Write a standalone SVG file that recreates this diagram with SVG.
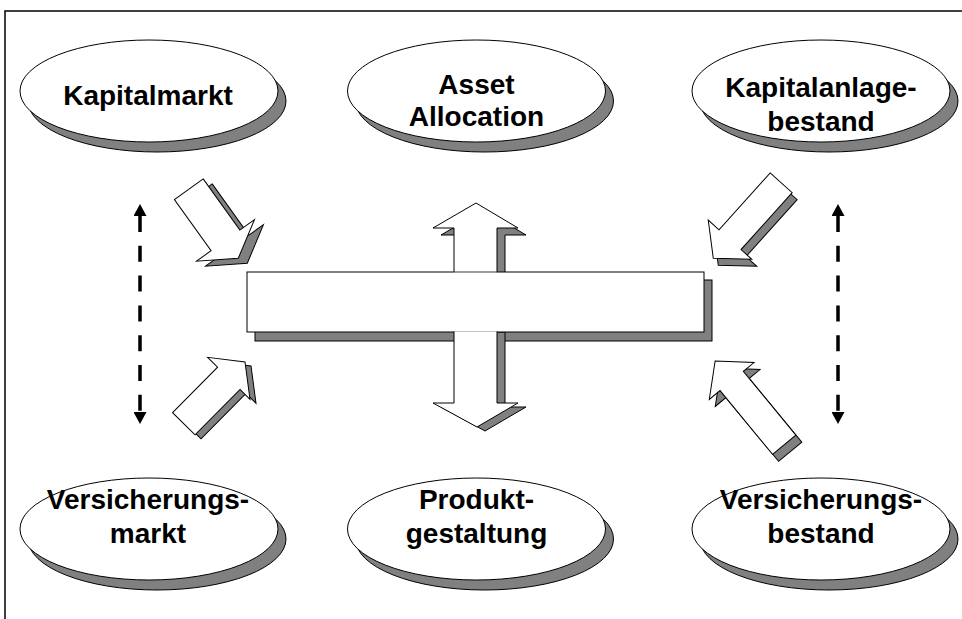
<svg xmlns="http://www.w3.org/2000/svg" width="962" height="619" viewBox="0 0 962 619">
<defs>
<style>
.sh{fill:#808080;stroke:#000;stroke-width:1}
.wh{fill:#fff;stroke:#000;stroke-width:1}
.lbl{font-family:"Liberation Sans",Arial,sans-serif;font-weight:bold;font-size:28px;fill:#000;text-anchor:middle}
.dash{stroke:#000;stroke-width:3.5;stroke-dasharray:16 13.8;fill:none}
</style>
<marker id="ah" viewBox="0 0 12 13" refX="0" refY="6.5" markerWidth="12" markerHeight="13" markerUnits="userSpaceOnUse" orient="auto-start-reverse">
<path d="M0,0 L12,6.5 L0,13 Z" fill="#000"/>
</marker>
</defs>
<rect width="962" height="619" fill="#fff"/>
<path d="M5,619 L5,11 L962,11" fill="none" stroke="#000" stroke-width="1.5"/>

<g id="kapitalmarkt">
<ellipse class="sh" cx="157" cy="101" rx="129" ry="51"/>
<ellipse class="wh" cx="149" cy="91" rx="129" ry="51"/>
<text class="lbl" x="148" y="105">Kapitalmarkt</text>
</g>
<g id="asset-allocation">
<ellipse class="sh" cx="484.5" cy="101" rx="129" ry="51"/>
<ellipse class="wh" cx="476.5" cy="91" rx="129" ry="51"/>
<text class="lbl" x="476.5" y="94">Asset</text>
<text class="lbl" x="476.5" y="126">Allocation</text>
</g>
<g id="kapitalanlagebestand">
<ellipse class="sh" cx="829" cy="101" rx="129" ry="51"/>
<ellipse class="wh" cx="821" cy="91" rx="129" ry="51"/>
<text class="lbl" x="821" y="97">Kapitalanlage-</text>
<text class="lbl" x="821" y="131">bestand</text>
</g>
<g id="versicherungsmarkt">
<ellipse class="sh" cx="157" cy="539" rx="129" ry="51"/>
<ellipse class="wh" cx="149" cy="529" rx="129" ry="51"/>
<text class="lbl" x="148" y="509">Versicherungs-</text>
<text class="lbl" x="148" y="543">markt</text>
</g>
<g id="produktgestaltung">
<ellipse class="sh" cx="484.5" cy="539" rx="129" ry="51"/>
<ellipse class="wh" cx="476.5" cy="529" rx="129" ry="51"/>
<text class="lbl" x="476.5" y="509">Produkt-</text>
<text class="lbl" x="476.5" y="543">gestaltung</text>
</g>
<g id="versicherungsbestand">
<ellipse class="sh" cx="829" cy="539" rx="129" ry="51"/>
<ellipse class="wh" cx="821" cy="529" rx="129" ry="51"/>
<text class="lbl" x="821" y="509">Versicherungs-</text>
<text class="lbl" x="821" y="543">bestand</text>
</g>

<g id="center-cross">
<rect class="sh" x="255" y="280" width="457" height="61"/>
<path class="sh" d="M462,279 L462,235 L441,235 L484,210 L526,235 L505,235 L505,279 Z"/>
<path class="wh" d="M454,272 L454,228 L433,228 L476,203 L518,228 L497,228 L497,272"/>
<path class="sh" d="M462,332 L462,407 L441,407 L485,431 L526,407 L505,407 L505,332 Z"/>
<rect class="wh" x="247" y="272" width="457" height="60"/>
<line x1="454.5" y1="272" x2="496.5" y2="272" stroke="#bbb" stroke-width="1"/>
<path class="wh" d="M454,331.5 L454,403 L433,403 L477,427 L518,403 L497,403 L497,331.5"/>
</g>

<g id="connectors">
<path class="sh" transform="translate(197.8,194.2) rotate(54.4)" d="M0,-17.7 L63,-17.7 L63,-35.6 L85,0 L63,35.6 L63,17.7 L0,17.7 Z"/>
<path class="wh" transform="translate(188.8,189.2) rotate(54.4)" d="M0,-17.7 L63,-17.7 L63,-35.6 L85,0 L63,35.6 L63,17.7 L0,17.7 Z"/>
<path class="sh" transform="translate(189.8,427.8) rotate(-45.3)" d="M0,-15.8 L64,-15.8 L64,-29.8 L87,0 L64,29.8 L64,15.8 L0,15.8 Z"/>
<path class="wh" transform="translate(183.8,423.8) rotate(-45.3)" d="M0,-15.8 L64,-15.8 L64,-29.8 L87,0 L64,29.8 L64,15.8 L0,15.8 Z"/>
<path class="sh" transform="translate(786.2,189.8) rotate(132)" d="M0,-14.8 L76.5,-14.8 L76.5,-29.3 L101.5,0 L76.5,29.3 L76.5,14.8 L0,14.8 Z"/>
<path class="wh" transform="translate(781.2,182.8) rotate(132)" d="M0,-14.8 L76.5,-14.8 L76.5,-29.3 L101.5,0 L76.5,29.3 L76.5,14.8 L0,14.8 Z"/>
<path class="sh" transform="translate(790.2,451.7) rotate(-129.5)" d="M0,-15.1 L82.6,-15.1 L82.6,-29 L108.6,0 L82.6,29 L82.6,15.1 L0,15.1 Z"/>
<path class="wh" transform="translate(784.2,444.7) rotate(-129.5)" d="M0,-15.1 L82.6,-15.1 L82.6,-29 L108.6,0 L82.6,29 L82.6,15.1 L0,15.1 Z"/>
<line class="dash" x1="140" y1="216" x2="140" y2="412" marker-start="url(#ah)" marker-end="url(#ah)"/>
<line class="dash" x1="838" y1="216" x2="838" y2="412" marker-start="url(#ah)" marker-end="url(#ah)"/>
</g>
</svg>
